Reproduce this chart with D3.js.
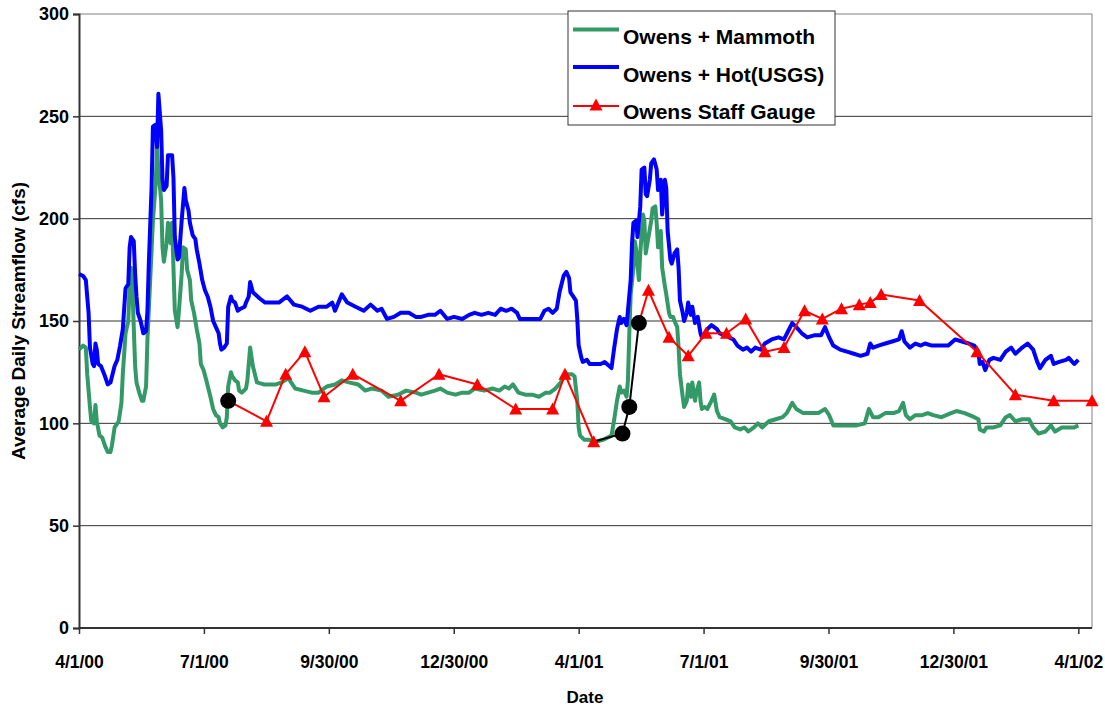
<!DOCTYPE html>
<html>
<head>
<meta charset="utf-8">
<script src="https://cdn.jsdelivr.net/npm/d3@7"></script>
<style>
  body { margin: 0; background: #fff; }
  svg { display: block; font-family: "Liberation Sans", Arial, sans-serif; font-weight: bold; }
</style>
</head>
<body>
<svg width="1105" height="708"></svg>
<script>
// days counted from 4/1/00
var startDate = Date.UTC(2000, 3, 1);
var lastDay = 740;

var mammothDay = [0, 3, 5, 6, 8, 9, 11, 12, 13, 15, 17, 19, 21, 23, 24, 26, 29, 31, 32, 34, 36, 37, 38, 39, 40, 41, 42, 44, 46, 47, 49, 50, 52, 54, 56, 57, 58, 60, 61, 62, 64, 65, 67, 68, 69, 70, 72, 73, 75, 76, 78, 79, 81, 82, 84, 86, 88, 89, 91, 93, 96, 98, 100, 102, 103, 105, 107, 108, 109, 111, 112, 114, 116, 117, 119, 122, 123, 125, 127, 130, 135, 140, 144, 148, 153, 158, 164, 170, 175, 181, 187, 192, 197, 204, 209, 214, 221, 226, 233, 239, 246, 250, 255, 260, 264, 269, 275, 280, 285, 289, 296, 302, 307, 311, 314, 317, 321, 326, 331, 336, 341, 344, 348, 352, 355, 360, 362, 364, 365, 366, 369, 372, 377, 383, 389, 391, 393, 395, 396, 398, 400, 401, 402, 403, 405, 406, 407, 409, 410, 412, 413, 414, 416, 418, 419, 421, 422, 423, 425, 426, 428, 429, 431, 432, 434, 435, 437, 438, 439, 441, 442, 444, 445, 447, 448, 450, 451, 453, 454, 455, 457, 459, 462, 464, 466, 468, 472, 476, 479, 483, 486, 489, 493, 496, 499, 504, 509, 514, 517, 521, 524, 529, 534, 540, 545, 548, 551, 556, 562, 568, 574, 577, 580, 584, 589, 595, 599, 602, 604, 607, 611, 616, 620, 624, 630, 637, 641, 647, 654, 657, 658, 661, 663, 668, 673, 677, 680, 684, 689, 694, 697, 701, 706, 710, 713, 718, 723, 727, 730];
var mammothCfs = [136, 138, 137, 124, 108, 101, 100, 109, 101, 94, 93, 89, 86, 86, 89, 98, 101, 110, 124, 144, 150, 167, 176, 167, 147, 128, 120, 115, 111, 111, 118, 141, 170, 199, 217, 235, 224, 209, 186, 179, 188, 198, 188, 198, 176, 155, 147, 155, 173, 186, 185, 175, 170, 160, 154, 146, 139, 129, 126, 121, 113, 107, 104, 103, 100, 98, 99, 103, 118, 125, 123, 121, 120, 116, 115, 117, 121, 137, 128, 120, 119, 119, 119, 120, 122, 117, 116, 115, 115, 118, 119, 121, 120, 119, 116, 117, 116, 113, 114, 116, 115, 114, 115, 116, 117, 115, 114, 115, 115, 117, 116, 117, 116, 118, 117, 119, 115, 114, 114, 113, 115, 115, 117, 120, 124, 124, 123, 111, 98, 94, 92, 92, 91, 92, 94, 102, 111, 118, 115, 116, 113, 121, 144, 163, 176, 189, 185, 170, 183, 202, 199, 183, 191, 199, 205, 206, 198, 186, 194, 176, 167, 163, 154, 152, 152, 150, 147, 137, 124, 113, 108, 111, 119, 113, 120, 111, 115, 120, 111, 107, 108, 107, 111, 114, 106, 103, 102, 101, 98, 97, 98, 96, 98, 100, 98, 101, 102, 103, 105, 110, 107, 105, 105, 105, 107, 104, 99, 99, 99, 99, 100, 107, 103, 103, 105, 105, 106, 110, 104, 102, 104, 104, 105, 104, 103, 105, 106, 105, 103, 102, 97, 96, 98, 98, 99, 103, 104, 101, 102, 102, 98, 95, 96, 99, 96, 98, 98, 98, 99];

var hotDay = [0, 3, 5, 7, 8, 10, 11, 12, 13, 14, 16, 19, 21, 23, 26, 28, 30, 32, 34, 36, 37, 38, 40, 41, 42, 43, 45, 47, 49, 50, 51, 53, 54, 56, 57, 58, 60, 61, 62, 64, 65, 68, 69, 70, 72, 73, 75, 77, 78, 80, 81, 83, 85, 86, 88, 90, 92, 94, 96, 98, 100, 102, 103, 104, 106, 108, 109, 111, 112, 114, 116, 118, 121, 122, 124, 125, 127, 132, 136, 141, 146, 152, 157, 163, 169, 175, 181, 185, 187, 192, 196, 202, 208, 213, 218, 221, 225, 230, 235, 241, 246, 250, 255, 260, 264, 269, 274, 280, 285, 289, 294, 299, 304, 308, 312, 316, 320, 322, 328, 333, 337, 340, 343, 346, 349, 351, 354, 356, 358, 359, 361, 363, 364, 365, 367, 368, 371, 373, 377, 381, 384, 389, 391, 393, 395, 396, 398, 400, 401, 403, 404, 405, 407, 408, 410, 411, 413, 414, 415, 417, 418, 420, 422, 423, 425, 426, 428, 429, 430, 432, 433, 435, 437, 438, 439, 441, 442, 444, 445, 447, 448, 450, 452, 454, 455, 457, 459, 462, 464, 466, 468, 472, 475, 478, 481, 485, 488, 491, 494, 498, 501, 506, 511, 515, 518, 521, 524, 528, 532, 537, 542, 545, 548, 551, 556, 561, 566, 571, 576, 578, 580, 584, 589, 594, 599, 601, 603, 607, 611, 615, 618, 623, 629, 635, 640, 645, 650, 654, 657, 658, 660, 662, 665, 668, 673, 677, 681, 684, 689, 693, 697, 700, 702, 706, 710, 712, 716, 721, 723, 727, 730];
var hotCfs = [173, 172, 170, 154, 137, 129, 128, 139, 136, 129, 128, 123, 119, 120, 128, 131, 138, 146, 166, 168, 186, 191, 189, 173, 162, 154, 150, 144, 145, 155, 178, 215, 245, 246, 235, 261, 243, 219, 214, 216, 231, 231, 220, 191, 180, 181, 199, 215, 209, 204, 198, 192, 190, 185, 178, 170, 165, 162, 157, 150, 147, 144, 139, 136, 137, 139, 157, 162, 160, 159, 155, 156, 157, 159, 162, 169, 164, 161, 159, 159, 159, 162, 158, 157, 155, 157, 157, 159, 155, 163, 159, 157, 155, 158, 155, 156, 151, 152, 154, 154, 152, 152, 153, 153, 155, 151, 152, 151, 153, 154, 153, 154, 153, 156, 155, 156, 154, 151, 151, 151, 151, 155, 156, 154, 156, 164, 172, 174, 171, 164, 162, 160, 151, 138, 132, 130, 131, 129, 129, 129, 130, 127, 137, 146, 152, 149, 151, 148, 155, 170, 188, 198, 199, 191, 206, 224, 225, 212, 211, 219, 227, 229, 224, 214, 219, 202, 219, 215, 194, 180, 178, 183, 185, 176, 160, 154, 150, 154, 159, 153, 157, 149, 152, 144, 142, 144, 146, 148, 147, 146, 144, 143, 142, 141, 138, 136, 137, 135, 137, 136, 139, 141, 142, 141, 145, 149, 147, 144, 142, 143, 143, 147, 142, 138, 136, 135, 134, 133, 134, 139, 137, 138, 139, 140, 141, 145, 140, 137, 139, 138, 139, 138, 138, 138, 141, 140, 139, 138, 135, 129, 130, 126, 131, 132, 131, 135, 137, 134, 137, 139, 136, 130, 127, 131, 133, 129, 130, 131, 132, 129, 131];

// staff gauge readings; "circle" points were drawn as black dots in the original
var staffDay = [109, 137, 151, 165, 179, 200, 235, 263, 291, 319, 346, 355, 376, 397, 402, 409, 416, 431, 445, 458, 473, 487, 501, 515, 530, 543, 557, 570, 578, 586, 614, 656, 684, 712, 740];
var staffCfs = [111, 101, 124, 135, 113, 124, 111, 124, 119, 107, 107, 124, 91, 95, 108, 149, 165, 142, 133, 144, 144, 151, 135, 137, 155, 151, 156, 158, 159, 163, 160, 135, 114, 111, 111];
var staffMark = ["circle", "tri", "tri", "tri", "tri", "tri", "tri", "tri", "tri", "tri", "tri", "tri", "tri", "circle", "circle", "circle", "tri", "tri", "tri", "tri", "tri", "tri", "tri", "tri", "tri", "tri", "tri", "tri", "tri", "tri", "tri", "tri", "tri", "tri", "tri"];

var yTicks = [0, 50, 100, 150, 200, 250, 300];
var xTickStep = 91.25; // days between date labels
var xTickCount = 9;

var seriesNames = ["Owens + Mammoth", "Owens + Hot(USGS)", "Owens Staff Gauge"];
var green = "#339966", blue = "#0000ff", red = "#ff0000";

var svg = d3.select("svg");
var dayMs = 864e5;
function toDate(day) { return new Date(startDate + day * dayMs); }

var x = d3.scaleUtc()
    .domain([toDate(0), toDate(lastDay)])
    .range([79, 1092]);
var y = d3.scaleLinear()
    .domain([0, 300])
    .range([628, 14]);

// gridlines
svg.append("g")
    .selectAll("line")
    .data(yTicks.slice(1))
    .enter()
    .append("line")
    .attr("x1", 79).attr("x2", 1092)
    .attr("y1", function (d) { return y(d); })
    .attr("y2", function (d) { return y(d); })
    .attr("stroke", function (d) { return d == 300 ? "#808080" : "#333"; })
    .attr("stroke-width", 1);

// right border of plot area
svg.append("line")
    .attr("x1", 1092).attr("x2", 1092)
    .attr("y1", y(300)).attr("y2", y(0))
    .attr("stroke", "#808080");

var yAxis = svg.append("g")
    .attr("transform", "translate(79,0)")
    .call(d3.axisLeft(y).tickValues(yTicks).tickSize(6).tickPadding(4));

var xTickDates = d3.range(xTickCount).map(function (i) { return toDate(i * xTickStep); });
var xAxis = svg.append("g")
    .attr("transform", "translate(0,628)")
    .call(d3.axisBottom(x).tickValues(xTickDates).tickSize(6).tickPadding(22)
        .tickFormat(d3.utcFormat("%-m/%-d/%y")));

[xAxis, yAxis].forEach(function (a) {
    a.select(".domain").attr("stroke", "#333").attr("stroke-width", 2);
    a.selectAll(".tick line").attr("stroke", "#333").attr("stroke-width", 1.5);
    a.selectAll(".tick text")
        .attr("fill", "#000")
        .style("font-family", "'Liberation Sans', Arial, sans-serif")
        .style("font-weight", "bold")
        .style("font-size", "17.5px");
});
xAxis.select(".domain").attr("d", "M79,0H1092");
yAxis.selectAll(".tick text").attr("x", -10).style("font-size", "18px");

// axis titles
svg.append("text")
    .attr("x", 585).attr("y", 703)
    .attr("text-anchor", "middle")
    .style("font-size", "17px")
    .text("Date");

svg.append("text")
    .attr("transform", "translate(25,321) rotate(-90)")
    .attr("text-anchor", "middle")
    .style("font-size", "19px")
    .text("Average Daily Streamflow (cfs)");

// daily series
var line = d3.line()
    .x(function (d) { return x(toDate(d[0])); })
    .y(function (d) { return y(d[1]); });

svg.append("path")
    .datum(d3.zip(mammothDay, mammothCfs))
    .attr("d", line)
    .attr("fill", "none")
    .attr("stroke", green)
    .attr("stroke-width", 4)
    .attr("stroke-linejoin", "round");

svg.append("path")
    .datum(d3.zip(hotDay, hotCfs))
    .attr("d", line)
    .attr("fill", "none")
    .attr("stroke", blue)
    .attr("stroke-width", 4)
    .attr("stroke-linejoin", "round");

// staff gauge: each segment takes the style of the point it leads into
var staff = staffDay.map(function (d, i) { return { day: d, cfs: staffCfs[i], mark: staffMark[i] }; });

svg.append("g")
    .selectAll("line")
    .data(staff.slice(1))
    .enter()
    .append("line")
    .attr("x1", function (d, i) { return x(toDate(staff[i].day)); })
    .attr("y1", function (d, i) { return y(staff[i].cfs); })
    .attr("x2", function (d) { return x(toDate(d.day)); })
    .attr("y2", function (d) { return y(d.cfs); })
    .attr("stroke", function (d) { return d.mark == "circle" ? "#000" : red; })
    .attr("stroke-width", 2);

var triPath = "M0,-6.5L6.5,5.5L-6.5,5.5Z";

var marks = svg.append("g")
    .selectAll("g")
    .data(staff)
    .enter()
    .append("g")
    .attr("transform", function (d) { return "translate(" + x(toDate(d.day)) + "," + y(d.cfs) + ")"; });

marks.filter(function (d) { return d.mark == "tri"; })
    .append("path")
    .attr("d", triPath)
    .attr("fill", red);

marks.filter(function (d) { return d.mark == "circle"; })
    .append("circle")
    .attr("r", 8)
    .attr("fill", "#000");

// legend
var legend = svg.append("g");
legend.append("rect")
    .attr("x", 568).attr("y", 11)
    .attr("width", 267).attr("height", 114)
    .attr("fill", "#fff")
    .attr("stroke", "#333");

var legendRows = [
    { name: seriesNames[0], color: green, width: 4, lineY: 29.5, textY: 44 },
    { name: seriesNames[1], color: blue, width: 4, lineY: 67, textY: 82 },
    { name: seriesNames[2], color: red, width: 2, lineY: 106, textY: 119 }
];

var row = legend.selectAll("g.row")
    .data(legendRows)
    .enter()
    .append("g")
    .attr("class", "row");

row.append("line")
    .attr("x1", 573).attr("x2", 619)
    .attr("y1", function (d) { return d.lineY; })
    .attr("y2", function (d) { return d.lineY; })
    .attr("stroke", function (d) { return d.color; })
    .attr("stroke-width", function (d) { return d.width; });

row.append("text")
    .attr("x", 623)
    .attr("y", function (d) { return d.textY; })
    .style("font-size", "21px")
    .text(function (d) { return d.name; });

legend.append("path")
    .attr("transform", "translate(596,105)")
    .attr("d", triPath)
    .attr("fill", red);
</script>
</body>
</html>
